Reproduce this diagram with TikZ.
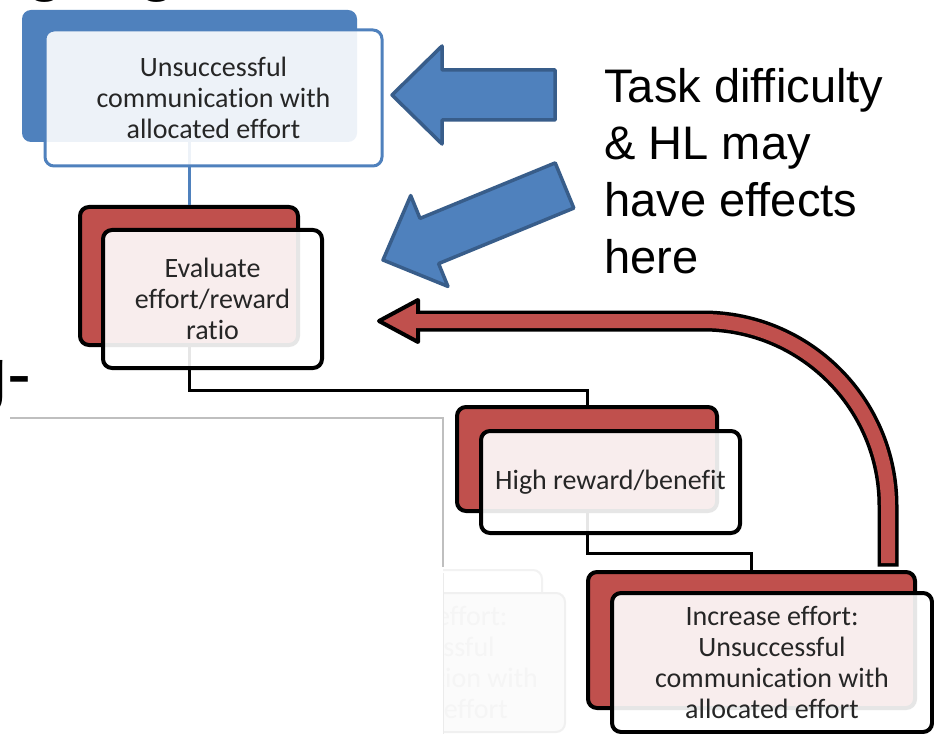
\documentclass[tikz,border=0pt]{standalone}
\usepackage{fontspec}
\setmainfont{Liberation Sans}
\newfontfamily\boxfont[Ligatures={NoCommon}]{Carlito}
\newlength\pxu
\setlength\pxu{0.75pt}
\definecolor{accblue}{HTML}{4F81BD}
\definecolor{accbluedark}{HTML}{385D8A}
\definecolor{accred}{HTML}{C0504D}
\definecolor{inktext}{HTML}{262626}
\begin{document}
\begin{tikzpicture}[x=0.75pt, y=-0.75pt,
  backblue/.style={rectangle, rounded corners=9\pxu, fill=accblue, inner sep=0pt},
  backred/.style={rectangle, rounded corners=9\pxu, fill=accred, draw=black, line width=4\pxu, inner sep=0pt},
  frontbox/.style={rectangle, rounded corners=9\pxu, fill=white, fill opacity=0.9, text opacity=1,
    draw=black, line width=4\pxu, align=center, text=inktext, inner sep=0pt,
    font=\boxfont\fontsize{21}{23.25}\selectfont},
  frontblue/.style={frontbox, draw=accblue, line width=3\pxu},
  ghostbox/.style={rectangle, rounded corners=9\pxu, fill=black!1.5, draw=black!6, line width=2\pxu,
    align=center, text=black!4, inner sep=0pt, font=\boxfont\fontsize{21}{23.25}\selectfont},
  conn/.style={draw=black, line width=3\pxu},
  blueconn/.style={draw=accblue, line width=3\pxu},
  blockarrow/.style={fill=accblue, draw=accbluedark, line width=3.5\pxu, line join=round},
  bigtext/.style={inner sep=0pt, anchor=base west, font=\fontsize{35.3}{42.75}\selectfont},
  cuttext/.style={inner sep=0pt, anchor=base west, font=\fontsize{54}{60}\selectfont}
]
\useasboundingbox (0,0) rectangle (934,734);
\clip (0,0) rectangle (934,734);
\fill[white] (0,0) rectangle (934,734);

% text running off the edges of the frame
\node[cuttext] (cutA) at (25.6,-12.5) {g};
\node[cuttext] (cutB) at (137.6,-12.5) {g};
\node[cuttext] (cutC) at (-33,398) {g-};

% thin grey frame and the faded box behind it
\draw[black!25, line width=1.2\pxu] (10,418) -- (443,418) -- (443,567);
\begin{scope}
  \clip (443,560) rectangle (620,734);
  \node[ghostbox, fill=white, draw=black!5, minimum width=282\pxu, minimum height=138\pxu] (ghostB) at (401,639) {};
  \node[ghostbox, minimum width=288\pxu, minimum height=139\pxu] (ghostF) at (421,662.5)
    {Increase effort:\\Unsuccessful\\communication with\\allocated effort};
  \draw[black!8, line width=1.2\pxu] (443,573) -- (443,734);
\end{scope}

% back panels
\node[backblue, minimum width=335\pxu, minimum height=132\pxu] (unsB) at (189.5,76) {};
\node[backred, minimum width=218\pxu, minimum height=138\pxu] (evalB) at (189,276) {};
\node[backred, minimum width=260\pxu, minimum height=104\pxu] (highB) at (587,459) {};
\node[backred, minimum width=327\pxu, minimum height=136\pxu] (incB) at (751.5,640) {};

% connectors between the steps
\draw[blueconn] (unsB.south) -- (unsB.south |- evalB.north);
\draw[conn] (evalB.south) -- ++(0,43) -| (highB.north);
\draw[conn] (highB.south) -- ++(0,40) -| (incB.north);

% front panels with the step texts
\node[frontblue, minimum width=337\pxu, minimum height=136\pxu] (unsF) at (213.5,98)
  {Unsuccessful\\communication with\\allocated effort};
\node[frontbox, minimum width=219\pxu, minimum height=138\pxu] (evalF) at (212.5,299)
  {Evaluate\\effort/reward\\ratio};
\node[frontbox, minimum width=259\pxu, minimum height=102\pxu] (highF) at (610.5,482)
  {High reward/benefit};
\node[frontbox, minimum width=320\pxu, minimum height=139\pxu] (incF) at (772,662.5)
  {Increase effort:\\Unsuccessful\\communication with\\allocated effort};

% blue block arrows
\draw[blockarrow] (392,95) -- (442,46) -- (442,70) -- (555,70) -- (555,120) -- (442,120) -- (442,144) -- cycle;
\draw[blockarrow] (383,260) -- (410.7,195.6) -- (420,218.4) -- (555.2,162.9) -- (573.8,208.1)
  -- (438.6,263.6) -- (447.9,286.4) -- cycle;

% red feedback arrow
\draw[black, line width=21\pxu, rounded corners=185\pxu] (888,566.5) -- (888,321) -- (412,321);
\filldraw[fill=accred, draw=black, line width=4\pxu, line join=round] (379,321) -- (418,300) -- (418,342) -- cycle;
\draw[accred, line width=14\pxu, rounded corners=185\pxu] (888,563) -- (888,321) -- (412,321);

% side note
\node[bigtext] (note) at (604,103) {\parbox[t]{330\pxu}{\raggedright Task difficulty\\\& HL may\\have effects\\here}};
\end{tikzpicture}
\end{document}
